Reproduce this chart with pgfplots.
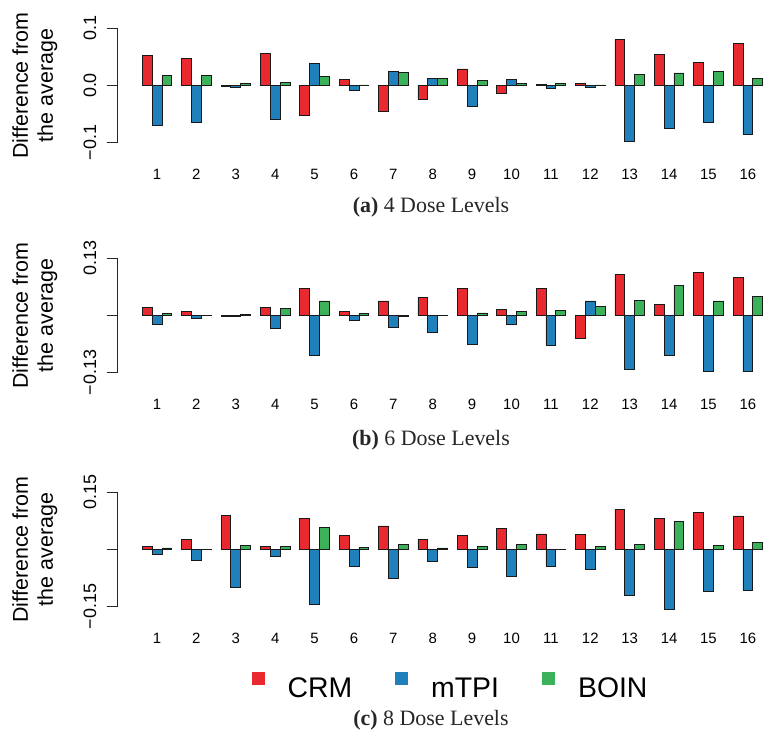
\documentclass[border=0pt]{standalone}
\usepackage{pgfplots}
\pgfplotsset{compat=1.18}
\usepackage{fontspec}
\setmainfont{Liberation Sans}
\newfontfamily\capfont{Liberation Serif}

\definecolor{crm}{HTML}{E8292F}
\definecolor{mtpi}{HTML}{2080BB}
\definecolor{boin}{HTML}{3BB25A}

% columns: dose scenario, CRM, mTPI, BOIN
\pgfplotstableread{
i crm mtpi boin
1 0.053 -0.069 0.017
2 0.048 -0.064 0.017
3 -0.001 -0.003 0.004
4 0.056 -0.060 0.006
5 -0.053 0.039 0.016
6 0.011 -0.008 0.001
7 -0.046 0.025 0.023
8 -0.025 0.013 0.013
9 0.029 -0.037 0.009
10 -0.013 0.011 0.003
11 0.002 -0.005 0.004
12 0.004 -0.003 0.001
13 0.080 -0.098 0.019
14 0.055 -0.075 0.022
15 0.041 -0.064 0.025
16 0.074 -0.085 0.012
}\fourdose

\pgfplotstableread{
i crm mtpi boin
1 0.018 -0.020 0.005
2 0.009 -0.006 0.001
3 -0.001 -0.001 0.002
4 0.019 -0.030 0.016
5 0.062 -0.090 0.033
6 0.010 -0.011 0.005
7 0.033 -0.027 -0.003
8 0.042 -0.039 0.001
9 0.062 -0.065 0.006
10 0.014 -0.021 0.010
11 0.061 -0.068 0.011
12 -0.052 0.033 0.021
13 0.093 -0.123 0.035
14 0.025 -0.091 0.069
15 0.098 -0.127 0.033
16 0.087 -0.128 0.044
}\sixdose

\pgfplotstableread{
i crm mtpi boin
1 0.009 -0.012 0.004
2 0.026 -0.028 0.001
3 0.089 -0.099 0.010
4 0.009 -0.018 0.009
5 0.082 -0.144 0.059
6 0.038 -0.044 0.006
7 0.062 -0.075 0.014
8 0.027 -0.032 0.004
9 0.038 -0.047 0.009
10 0.056 -0.070 0.014
11 0.041 -0.044 0.001
12 0.040 -0.051 0.009
13 0.106 -0.120 0.014
14 0.081 -0.156 0.074
15 0.098 -0.111 0.011
16 0.088 -0.106 0.018
}\eightdose

\pgfplotsset{
  panel/.style={
    scale only axis, width=646.4bp, height=114.4bp,
    xmin=0, xmax=16.41, ymin=-#1, ymax=#1,
    clip=false,
    axis lines*=left,
    x axis line style={draw=none},
    y axis line style={black!85, line width=0.8bp},
    xtick={1,...,16}, xtick align=inside,
    major x tick style={draw=none},
    ytick={-#1,0,#1}, ytick align=outside,
    major tick length=11bp,
    major y tick style={black!85, line width=0.8bp},
    /pgf/number format/assume math mode=true,
    xticklabel style={anchor=north, inner sep=0pt, yshift=-15.5bp, font=\fontsize{15}{18}\selectfont},
    yticklabel style={rotate=90, anchor=south, inner sep=0pt, yshift=10bp, font=\fontsize{18}{21}\selectfont},
    ylabel={Difference from\\the average},
    ylabel style={at={(axis description cs:-0.128,0.5)}, anchor=center, align=center,
      font=\fontsize{21.5}{25}\selectfont},
    ybar=0pt, bar width=0.25,
    every axis plot/.append style={draw=black!90, line width=0.7bp},
  },
}

\begin{document}
\begin{tikzpicture}
\path[use as bounding box] (0,0) rectangle (764bp,734bp);

% (a) 4 dose levels
\begin{axis}[panel=0.1, at={(117.6bp,591.3bp)}, anchor=south west,
  yticklabels={−0.1,0.0,0.1}]
\addplot[fill=crm, bar shift=-0.25] table[x=i, y=crm] {\fourdose};
\addplot[fill=mtpi, bar shift=0] table[x=i, y=mtpi] {\fourdose};
\addplot[fill=boin, bar shift=0.25] table[x=i, y=boin] {\fourdose};
\end{axis}
\node[font=\capfont\fontsize{22}{26}\selectfont, text=black!85] at (431bp,527bp) {\textbf{(a)} 4 Dose Levels};

% (b) 6 dose levels
\begin{axis}[panel=0.13, at={(117.6bp,361.3bp)}, anchor=south west,
  yticklabels={−0.13,,0.13}]
\addplot[fill=crm, bar shift=-0.25] table[x=i, y=crm] {\sixdose};
\addplot[fill=mtpi, bar shift=0] table[x=i, y=mtpi] {\sixdose};
\addplot[fill=boin, bar shift=0.25] table[x=i, y=boin] {\sixdose};
\end{axis}
\node[font=\capfont\fontsize{22}{26}\selectfont, text=black!85] at (431bp,294bp) {\textbf{(b)} 6 Dose Levels};

% (c) 8 dose levels
\begin{axis}[panel=0.15, at={(117.6bp,127.3bp)}, anchor=south west,
  yticklabels={−0.15,,0.15},
  legend columns=3,
  legend style={draw=none, fill=none, at={(axis description cs:0.5135,-0.687)}, anchor=center,
    font=\fontsize{28.5}{32}\selectfont, nodes={inner sep=0pt},
    /tikz/every odd column/.append style={column sep=23bp},
    /tikz/every even column/.append style={column sep=43bp}},
  legend image code/.code={\fill[draw=none] (0bp,3.8bp) rectangle (13bp,16.8bp);}]
\addplot[fill=crm, bar shift=-0.25] table[x=i, y=crm] {\eightdose};
\addplot[fill=mtpi, bar shift=0] table[x=i, y=mtpi] {\eightdose};
\addplot[fill=boin, bar shift=0.25] table[x=i, y=boin] {\eightdose};
\legend{CRM, mTPI, BOIN}
\end{axis}
\node[font=\capfont\fontsize{22}{26}\selectfont, text=black!85] at (431bp,14bp) {\textbf{(c)} 8 Dose Levels};
\end{tikzpicture}
\end{document}
